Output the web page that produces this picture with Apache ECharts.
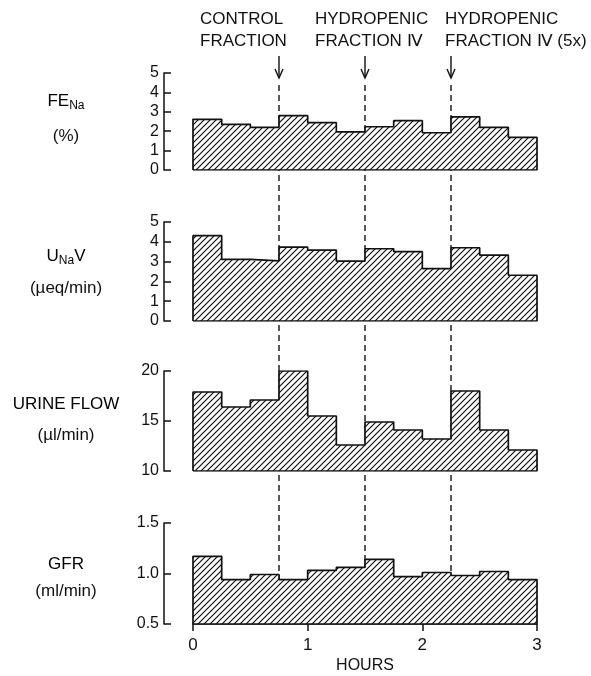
<!DOCTYPE html>
<html><head><meta charset="utf-8">
<script src="https://cdn.jsdelivr.net/npm/echarts@6/dist/echarts.min.js"></script>
<style>html,body{margin:0;padding:0;background:#fff}#c{width:591px;height:676px}</style>
</head><body><div id="c"></div><script>
// ---- data ----
const binStarts = [0, 0.25, 0.5, 0.75, 1, 1.25, 1.5, 1.75, 2, 2.25, 2.5, 2.75];
const binWidth = 0.25;
const fena      = [2.61, 2.35, 2.20, 2.80, 2.44, 1.97, 2.23, 2.54, 1.92, 2.74, 2.20, 1.68];
const unav      = [4.31, 3.11, 3.04, 3.73, 3.58, 3.02, 3.65, 3.50, 2.65, 3.70, 3.33, 2.31];
const urineFlow = [17.9, 16.4, 17.1, 20.0, 15.5, 12.6, 14.9, 14.1, 13.2, 18.0, 14.1, 12.1];
const gfr       = [1.17, 0.94, 0.99, 0.94, 1.03, 1.06, 1.14, 0.97, 1.01, 0.98, 1.02, 0.94];
const injectionTimes = [0.75, 1.5, 2.25];
const injectionLabels = ['CONTROL\nFRACTION', 'HYDROPENIC\nFRACTION \u2163', 'HYDROPENIC\nFRACTION \u2163 (5x)'];
const xTitle = 'HOURS';

const panels = [
  {values: fena,      min: 0,   max: 5,   interval: 1,   dec: 0, label: '{a|FE}{s|Na}',  unit: '(%)'},
  {values: unav,      min: 0,   max: 5,   interval: 1,   dec: 0, label: '{a|U}{s|Na}{a|V}', unit: '(\u00b5eq/min)'},
  {values: urineFlow, min: 10,  max: 20,  interval: 5,   dec: 0, label: '{a|URINE FLOW}', unit: '(\u00b5l/min)'},
  {values: gfr,       min: 0.5, max: 1.5, interval: 0.5, dec: 1, label: '{a|GFR}', unit: '(ml/min)'}
];

// ---- layout ----
const FONT = 'Liberation Sans';
const INK = '#111';
const gridLeft = 193, gridWidth = 344;
const gridTops = [73, 222, 371, 523];
const gridHeights = [97, 99, 100, 101];
const labelX = 66;
const labelY = [[101, 136], [256, 288], [404, 435], [564, 591]];
const annoX = [200, 315, 445];

// hatch pattern
const tile = document.createElement('canvas');
const S = 6;
tile.width = S; tile.height = S;
(function(){
  const g = tile.getContext('2d');
  g.fillStyle = '#fff'; g.fillRect(0,0,S,S);
  g.strokeStyle = '#111'; g.lineWidth = 1.2;
  g.beginPath();
  g.moveTo(-1, S+1); g.lineTo(S+1, -1);
  g.moveTo(-1, 1); g.lineTo(1, -1);
  g.moveTo(S-1, S+1); g.lineTo(S+1, S-1);
  g.stroke();
})();
const hatch = {image: tile, repeat: 'repeat'};

const grids = [], xAxes = [], yAxes = [], series = [], graphics = [];
panels.forEach((p, i) => {
  grids.push({left: gridLeft, width: gridWidth, top: gridTops[i], height: gridHeights[i], containLabel: false});
  const last = i === panels.length - 1;
  xAxes.push({
    gridIndex: i, type: 'value', min: 0, max: 3, interval: 1,
    show: last,
    axisLine: {show: last, onZero: false, lineStyle: {color: INK, width: 1.5}},
    axisTick: {show: last, length: 7, lineStyle: {color: INK, width: 1.5}},
    axisLabel: {show: last, fontFamily: FONT, fontSize: 17, color: INK, margin: 13},
    splitLine: {show: false},
    name: last ? xTitle : '', nameLocation: 'middle', nameGap: 34,
    nameTextStyle: {fontFamily: FONT, fontSize: 16, color: INK}
  });
  yAxes.push({
    gridIndex: i, type: 'value', min: p.min, max: p.max, interval: p.interval, offset: 29,
    axisLine: {show: true, onZero: false, lineStyle: {color: INK, width: 1.5}},
    axisTick: {show: true, inside: true, length: 7, lineStyle: {color: INK, width: 1.5}},
    axisLabel: {fontFamily: FONT, fontSize: 16, color: INK, margin: 5,
      formatter: v => v.toFixed(p.dec)},
    splitLine: {show: false}
  });
  const base = p.min;
  series.push({
    type: 'custom', xAxisIndex: i, yAxisIndex: i, z: 2, silent: true,
    data: binStarts.map((t, k) => [t, p.values[k]]),
    renderItem: (params, api) => {
      const x0 = api.value(0), v = api.value(1);
      const a = api.coord([x0, v]);
      const b = api.coord([x0 + binWidth, base]);
      return {type: 'rect', shape: {x: a[0] - 0.5, y: a[1], width: b[0] - a[0] + 1, height: b[1] - a[1]},
        style: {fill: hatch}};
    }
  });
  const outline = [[0, base]];
  binStarts.forEach((t, k) => outline.push([t, p.values[k]]));
  outline.push([3, p.values[p.values.length - 1]], [3, base], [0, base]);
  series.push({
    type: 'line', xAxisIndex: i, yAxisIndex: i, z: 3, step: 'end', silent: true,
    showSymbol: false, symbol: 'none', data: outline,
    lineStyle: {color: INK, width: 1.7}
  });
  graphics.push({type: 'text', style: {x: labelX, y: labelY[i][0], text: p.label, align: 'center', verticalAlign: 'middle',
    rich: {a: {fontFamily: FONT, fontSize: 17, color: INK}, s: {fontFamily: FONT, fontSize: 12, color: INK, padding: [10, 0, 0, 0]}}}});
  graphics.push({type: 'text', style: {x: labelX, y: labelY[i][1], text: p.unit, align: 'center', verticalAlign: 'middle',
    fontFamily: FONT, fontSize: 17, fill: INK}});
});

// overlay grid for injection markers
grids.push({left: gridLeft, width: gridWidth, top: 0, height: 676});
xAxes.push({gridIndex: 4, type: 'value', min: 0, max: 3, show: false});
yAxes.push({gridIndex: 4, type: 'value', min: 0, max: 1, show: false});
series.push({
  type: 'custom', xAxisIndex: 4, yAxisIndex: 4, z: 1, silent: true,
  data: injectionTimes.map(t => [t, 0]),
  renderItem: (params, api) => {
    const x = api.coord([api.value(0), 0])[0];
    return {type: 'group', children: [
      {type: 'line', shape: {x1: x, y1: 56, x2: x, y2: 78}, style: {stroke: INK, lineWidth: 1.4}},
      {type: 'polyline', shape: {points: [[x - 4, 69], [x, 78], [x + 4, 69]]}, style: {stroke: INK, lineWidth: 1.4, fill: null}},
      {type: 'line', shape: {x1: x, y1: 85, x2: x, y2: 624}, style: {stroke: INK, lineWidth: 1.4, lineDash: [6, 4]}}
    ]};
  }
});

injectionLabels.forEach((txt, i) => {
  graphics.push({type: 'text', style: {x: annoX[i], y: 8, text: txt, align: 'left', verticalAlign: 'top',
    fontFamily: FONT, fontSize: 17, lineHeight: 22, fill: INK}});
});

const chart = echarts.init(document.getElementById('c'), null, {renderer: 'canvas'});
chart.setOption({
  animation: false, backgroundColor: '#fff',
  grid: grids, xAxis: xAxes, yAxis: yAxes, series: series, graphic: graphics
});
</script></body></html>
